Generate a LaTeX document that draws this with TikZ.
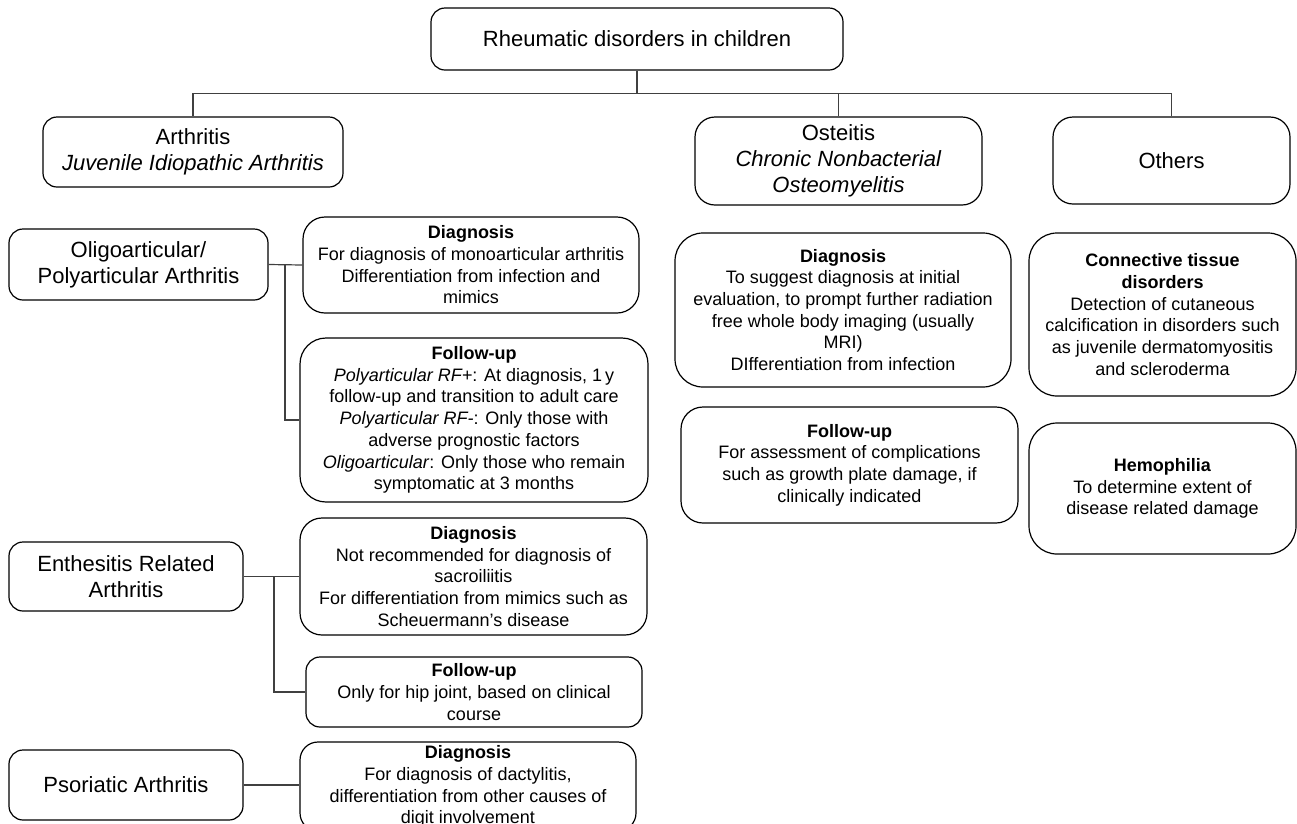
\documentclass[tikz,border=0pt]{standalone}
\usepackage{fontspec}
\setmainfont{Liberation Sans}
\usetikzlibrary{positioning}

\begin{document}
\begin{tikzpicture}[x=1pt,y=-1pt,
    cat/.style={draw=black, line width=1.2pt, rounded corners=14pt, align=center, inner sep=0pt,
      font=\fontsize{22}{26}\selectfont},
    note/.style={draw=black, line width=1.2pt, rounded corners=22pt, align=center, inner sep=0pt,
      font=\fontsize{18}{21.7}\selectfont},
    link/.style={draw=black!75, line width=1.2pt}]
\useasboundingbox (0,0) rectangle (1297,823);
\clip (0,0) rectangle (1297,823);

% first level
\node[cat, minimum width=412pt, minimum height=62pt] (root) at (637,39) {Rheumatic disorders in children};
\node[cat, minimum width=300pt, minimum height=70pt] (arth) at (193,152) {Arthritis\\\textit{Juvenile Idiopathic Arthritis}};
\node[cat, minimum width=287pt, minimum height=88pt, rounded corners=20pt] (oste) at (838.5,161) {Osteitis\\\textit{Chronic Nonbacterial}\\\textit{Osteomyelitis}};
\node[cat, minimum width=237pt, minimum height=87pt, rounded corners=20pt] (oth) at (1171.5,160.5) {Others};

% arthritis subtypes
\node[cat, minimum width=259pt, minimum height=71pt] (oligo) at (138.5,264.5) {Oligoarticular/\\Polyarticular Arthritis};
\node[cat, minimum width=234pt, minimum height=69pt] (era) at (126,576.5) {Enthesitis Related\\Arthritis};
\node[cat, minimum width=234pt, minimum height=70pt] (psa) at (126,785) {Psoriatic Arthritis};

\node[note, minimum width=336pt, minimum height=96pt] (oligoD) at (471,265) {\textbf{Diagnosis}\\For diagnosis of monoarticular arthritis\\Differentiation from infection and\\mimics};
\node[note, minimum width=348pt, minimum height=164pt, rounded corners=26pt] (oligoF) at (474,420) {\textbf{Follow-up}\\\textit{Polyarticular RF+}: At diagnosis, 1\,y\\follow-up and transition to adult care\\\textit{Polyarticular RF-}: Only those with\\adverse prognostic factors\\\textit{Oligoarticular}: Only those who remain\\symptomatic at 3 months};
\node[note, minimum width=347pt, minimum height=117pt] (eraD) at (473.5,576.5) {\textbf{Diagnosis}\\Not recommended for diagnosis of\\sacroiliitis\\For differentiation from mimics such as\\Scheuermann’s disease};
\node[note, minimum width=336pt, minimum height=70pt, rounded corners=14pt] (eraF) at (474,692) {\textbf{Follow-up}\\Only for hip joint, based on clinical\\course};
\node[note, minimum width=336pt, minimum height=89pt, rounded corners=18pt] (psaD) at (468,786.5) {\textbf{Diagnosis}\\For diagnosis of dactylitis,\\differentiation from other causes of\\digit involvement};

% osteitis and others
\node[note, minimum width=336pt, minimum height=154pt, rounded corners=28pt] (osteD) at (843,310) {\textbf{Diagnosis}\\To suggest diagnosis at initial\\evaluation, to prompt further radiation\\free whole body imaging (usually\\MRI)\\DIfferentiation from infection};
\node[note, minimum width=337pt, minimum height=116pt] (osteF) at (849.5,465) {\textbf{Follow-up}\\For assessment of complications\\such as growth plate damage, if\\clinically indicated};
\node[note, minimum width=267pt, minimum height=163pt, rounded corners=28pt] (ctd) at (1162.5,314.5) {\textbf{Connective tissue}\\\textbf{disorders}\\Detection of cutaneous\\calcification in disorders such\\as juvenile dermatomyositis\\and scleroderma};
\node[note, minimum width=267pt, minimum height=131pt, rounded corners=28pt] (hemo) at (1162.5,488.5) {\textbf{Hemophilia}\\To determine extent of\\disease related damage};

% tree lines
\draw[link] (root.south) -- ++(0,23) coordinate (bus);
\draw[link] (arth.north) -- (arth.north |- bus) -- (oth.north |- bus) -- (oth.north);
\draw[link] (oste.north) -- (oste.north |- bus);

\coordinate (oligoJ) at (285,265);
\draw[link] (oligo.east) -- (oligoD.west);
\draw[link] (oligoJ) |- (oligoF.west);
\coordinate (eraJ) at (274,576.5);
\draw[link] (era.east) -- (eraD.west);
\draw[link] (eraJ) |- (eraF.west);
\draw[link] (psa.east) -- (psa.east -| psaD.west);
\end{tikzpicture}
\end{document}
